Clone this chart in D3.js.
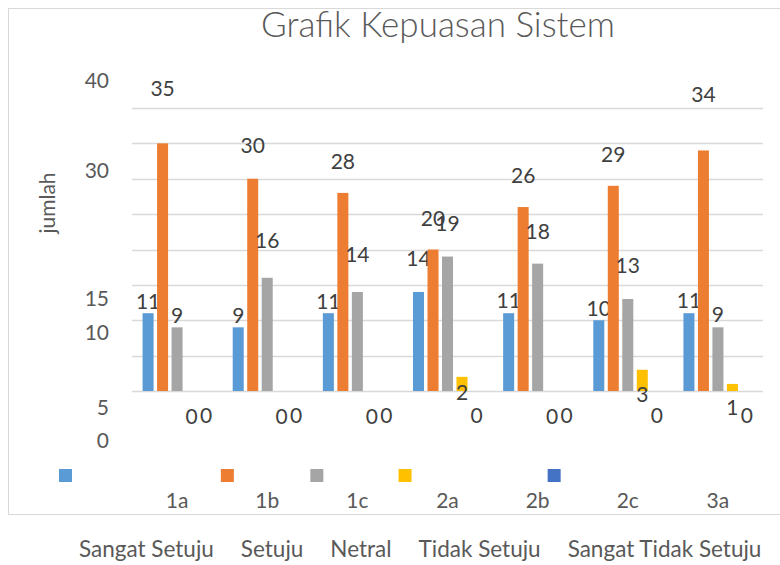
<!DOCTYPE html>
<html>
<head>
<meta charset="utf-8">
<script src="https://cdn.jsdelivr.net/npm/d3@7"></script>
<style>
  html, body { margin: 0; padding: 0; background: #fff; }
  svg { display: block; font-family: Lato, "Open Sans", sans-serif; }
</style>
</head>
<body>
<svg id="chart" width="780" height="565"></svg>
<script>
// ---------- data ----------
const categories = ["1a", "1b", "1c", "2a", "2b", "2c", "3a"];
const seriesNames = ["Sangat Setuju", "Setuju", "Netral", "Tidak Setuju", "Sangat Tidak Setuju"];
const sangatSetuju      = [11, 9, 11, 14, 11, 10, 11];
const setuju            = [35, 30, 28, 20, 26, 29, 34];
const netral            = [9, 16, 14, 19, 18, 13, 9];
const tidakSetuju       = [0, 0, 0, 2, 0, 3, 1];
const sangatTidakSetuju = [0, 0, 0, 0, 0, 0, 0];
const yTickLabels = ["40", "30", "15", "10", "5", "0"];
const titleText = "Grafik Kepuasan Sistem";
const yTitle = "jumlah";

// ---------- layout / style (not data) ----------
const colors = ["#5B9BD5", "#ED7D31", "#A5A5A5", "#FFC000", "#4472C4"];
const plot = { left: 132, right: 763, top: 108, bottom: 391 };
const yTickLabelBaseline = [88, 178, 306, 340, 415, 448];
// label baseline offset from bar top (px), as placed in the original
const labelDy = [
  [-4, -4, -4, -26, -5, -4, -5],
  [-47, -26, -24, -24, -24, -24, -48],
  [-4, -30, -30, -26, -25, -26, -5],
  [33, 33, 33, 23, 33, 32, 31],
  [32, 32, 32, 32, 32, 32, 32]
];

const seriesValues = [sangatSetuju, setuju, netral, tidakSetuju, sangatTidakSetuju];

const svg = d3.select("#chart");
svg.append("rect").attr("width", 780).attr("height", 565).attr("fill", "#fff");

// chart frame
svg.append("rect")
  .attr("x", 8.5).attr("y", 8.5).attr("width", 820).attr("height", 506)
  .attr("fill", "none").attr("stroke", "#D9D9D9").attr("stroke-width", 1);

// scales
const y = d3.scaleLinear().domain([0, 40]).range([plot.bottom, plot.top]);
const x0 = d3.scaleBand().domain(categories).range([plot.left, plot.right])
  .paddingInner(0.2345).paddingOuter(0.11725);
const x1 = d3.scaleBand().domain(seriesNames).range([0, x0.bandwidth()])
  .paddingInner(0.24).paddingOuter(0);

// gridlines
svg.append("g").selectAll("line")
  .data(y.ticks(8))
  .join("line")
  .attr("x1", plot.left).attr("x2", plot.right)
  .attr("y1", d => Math.round(y(d)) + 0.5).attr("y2", d => Math.round(y(d)) + 0.5)
  .attr("stroke", "#D9D9D9").attr("stroke-width", 1.3);

// title
svg.append("text")
  .attr("x", 438).attr("y", 37)
  .attr("text-anchor", "middle")
  .attr("font-size", 35).attr("font-weight", 300)
  .attr("fill", "#595959")
  .text(titleText);

// y axis title
svg.append("text")
  .attr("transform", "translate(55,203) rotate(-90)")
  .attr("text-anchor", "middle")
  .attr("font-size", 21)
  .attr("fill", "#595959")
  .text(yTitle);

// y tick labels (misplaced, as in the original)
svg.append("g").selectAll("text")
  .data(yTickLabels)
  .join("text")
  .attr("x", 109)
  .attr("y", (d, i) => yTickLabelBaseline[i])
  .attr("text-anchor", "end")
  .attr("font-size", 21)
  .attr("fill", "#595959")
  .text(d => d);

// bars
const groups = svg.append("g").selectAll("g")
  .data(seriesNames.map((s, si) => ({ s, si })))
  .join("g")
  .attr("fill", d => colors[d.si]);

groups.selectAll("rect")
  .data(d => categories.map((c, ci) => ({ c, ci, s: d.s, si: d.si, v: seriesValues[d.si][ci] })))
  .join("rect")
  .attr("x", d => x0(d.c) + x1(d.s))
  .attr("width", x1.bandwidth())
  .attr("y", d => y(d.v))
  .attr("height", d => y(0) - y(d.v));

// data labels
groups.selectAll("text")
  .data(d => categories.map((c, ci) => ({ c, ci, s: d.s, si: d.si, v: seriesValues[d.si][ci] })))
  .join("text")
  .attr("x", d => x0(d.c) + x1(d.s) + x1.bandwidth() / 2)
  .attr("y", d => y(d.v) + labelDy[d.si][d.ci])
  .attr("text-anchor", "middle")
  .attr("font-size", 21)
  .attr("fill", "#404040")
  .text(d => d.v);

// category labels
svg.append("g").selectAll("text")
  .data(categories)
  .join("text")
  .attr("x", d => x0(d) + x0.bandwidth() / 2)
  .attr("y", 508)
  .attr("text-anchor", "middle")
  .attr("font-size", 21)
  .attr("fill", "#595959")
  .text(d => d);

// legend: swatches in one row, names in a row below (as in the original)
const legend = svg.append("g");
let lx = 59;
seriesNames.forEach((name, i) => {
  legend.append("rect")
    .attr("x", lx).attr("y", 469).attr("width", 13).attr("height", 13)
    .attr("fill", colors[i]);
  const t = legend.append("text")
    .attr("x", lx + 20).attr("y", 557)
    .attr("font-size", 22.5)
    .attr("fill", "#595959")
    .text(name);
  lx = lx + 20 + t.node().getComputedTextLength() + 7;
});
</script>
</body>
</html>
